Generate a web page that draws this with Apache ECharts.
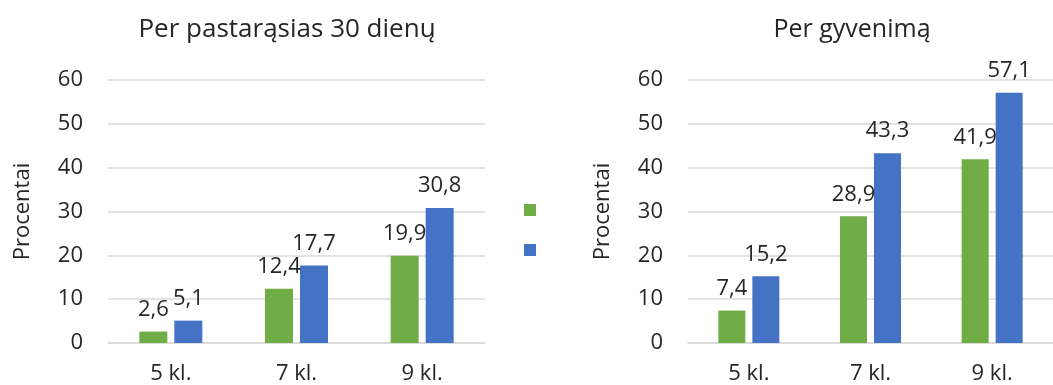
<!DOCTYPE html>
<html>
<head>
<meta charset="utf-8">
<script src="https://cdn.jsdelivr.net/npm/echarts@6/dist/echarts.min.js"></script>
<style>
  html, body { margin: 0; padding: 0; background: #ffffff; }
  #chart { width: 1053px; height: 385px; }
</style>
</head>
<body>
<div id="chart"></div>
<script>
// Grades on the category axis
const grades = ['5 kl.', '7 kl.', '9 kl.'];
// Percent values, past 30 days
const last30Green = [2.6, 12.4, 19.9];
const last30Blue = [5.1, 17.7, 30.8];
// Percent values, lifetime
const lifetimeGreen = [7.4, 28.9, 41.9];
const lifetimeBlue = [15.2, 43.3, 57.1];
// Value axis ticks
const yTicks = [0, 10, 20, 30, 40, 50, 60];

const titles = ['Per pastarąsias 30 dienų', 'Per gyvenimą'];
const axisName = 'Procentai';

const GREEN = '#70AD47';
const BLUE = '#4472C4';
const TEXT = '#262626';
const FONT = '"Open Sans", "Noto Sans", sans-serif';

const fmt = p => p.value.toFixed(1).replace('.', ',');

function makeLabel() {
  return {
    show: true,
    position: 'top',
    distance: 11,
    color: TEXT,
    fontSize: 22,
    fontFamily: FONT,
    formatter: fmt
  };
}

function yAxis(gridIndex) {
  return {
    type: 'value',
    gridIndex: gridIndex,
    min: yTicks[0],
    max: yTicks[yTicks.length - 1],
    interval: yTicks[1] - yTicks[0],
    name: axisName,
    nameLocation: 'middle',
    nameGap: 74,
    nameTextStyle: { color: TEXT, fontSize: 22, fontFamily: FONT },
    axisLine: { show: false },
    axisTick: { show: false },
    axisLabel: { color: TEXT, fontSize: 22, fontFamily: FONT, margin: 25 },
    splitLine: { lineStyle: { color: '#D9D9D9', width: 1.5 } }
  };
}

function xAxis(gridIndex) {
  return {
    type: 'category',
    gridIndex: gridIndex,
    data: grades,
    axisLine: { show: true, lineStyle: { color: '#D9D9D9', width: 1.5 } },
    axisTick: { show: false },
    axisLabel: { color: TEXT, fontSize: 22, fontFamily: FONT, margin: 20 }
  };
}

const chart = echarts.init(document.getElementById('chart'), null, { renderer: 'canvas' });

chart.setOption({
  animation: false,
  backgroundColor: '#ffffff',
  textStyle: { fontFamily: FONT },
  title: [
    {
      text: titles[0], left: 282, top: 12, textAlign: 'center',
      textStyle: { color: TEXT, fontSize: 26, fontWeight: 'normal', fontFamily: FONT }
    },
    {
      text: titles[1], left: 847, top: 12, textAlign: 'center',
      textStyle: { color: TEXT, fontSize: 25, fontWeight: 'normal', fontFamily: FONT }
    }
  ],
  legend: {
    orient: 'vertical',
    left: 524,
    top: 204,
    itemWidth: 12,
    itemHeight: 12,
    itemGap: 28,
    icon: 'rect',
    data: ['g', 'b'],
    formatter: () => '',
    textStyle: { fontSize: 1, padding: 0 },
    padding: 0,
    selectedMode: false
  },
  grid: [
    { left: 108, top: 80, width: 377, height: 263 },
    { left: 688, top: 80, width: 365, height: 263 }
  ],
  xAxis: [xAxis(0), xAxis(1)],
  yAxis: [yAxis(0), yAxis(1)],
  series: [
    {
      name: 'g', type: 'bar', xAxisIndex: 0, yAxisIndex: 0,
      data: last30Green, barWidth: 28, barGap: '25%',
      itemStyle: { color: GREEN }, label: makeLabel()
    },
    {
      name: 'b', type: 'bar', xAxisIndex: 0, yAxisIndex: 0,
      data: last30Blue, barWidth: 28, barGap: '25%',
      itemStyle: { color: BLUE }, label: makeLabel()
    },
    {
      name: 'g', type: 'bar', xAxisIndex: 1, yAxisIndex: 1,
      data: lifetimeGreen, barWidth: 27, barGap: '26%',
      itemStyle: { color: GREEN }, label: makeLabel()
    },
    {
      name: 'b', type: 'bar', xAxisIndex: 1, yAxisIndex: 1,
      data: lifetimeBlue, barWidth: 27, barGap: '26%',
      itemStyle: { color: BLUE }, label: makeLabel()
    }
  ]
});
</script>
</body>
</html>
